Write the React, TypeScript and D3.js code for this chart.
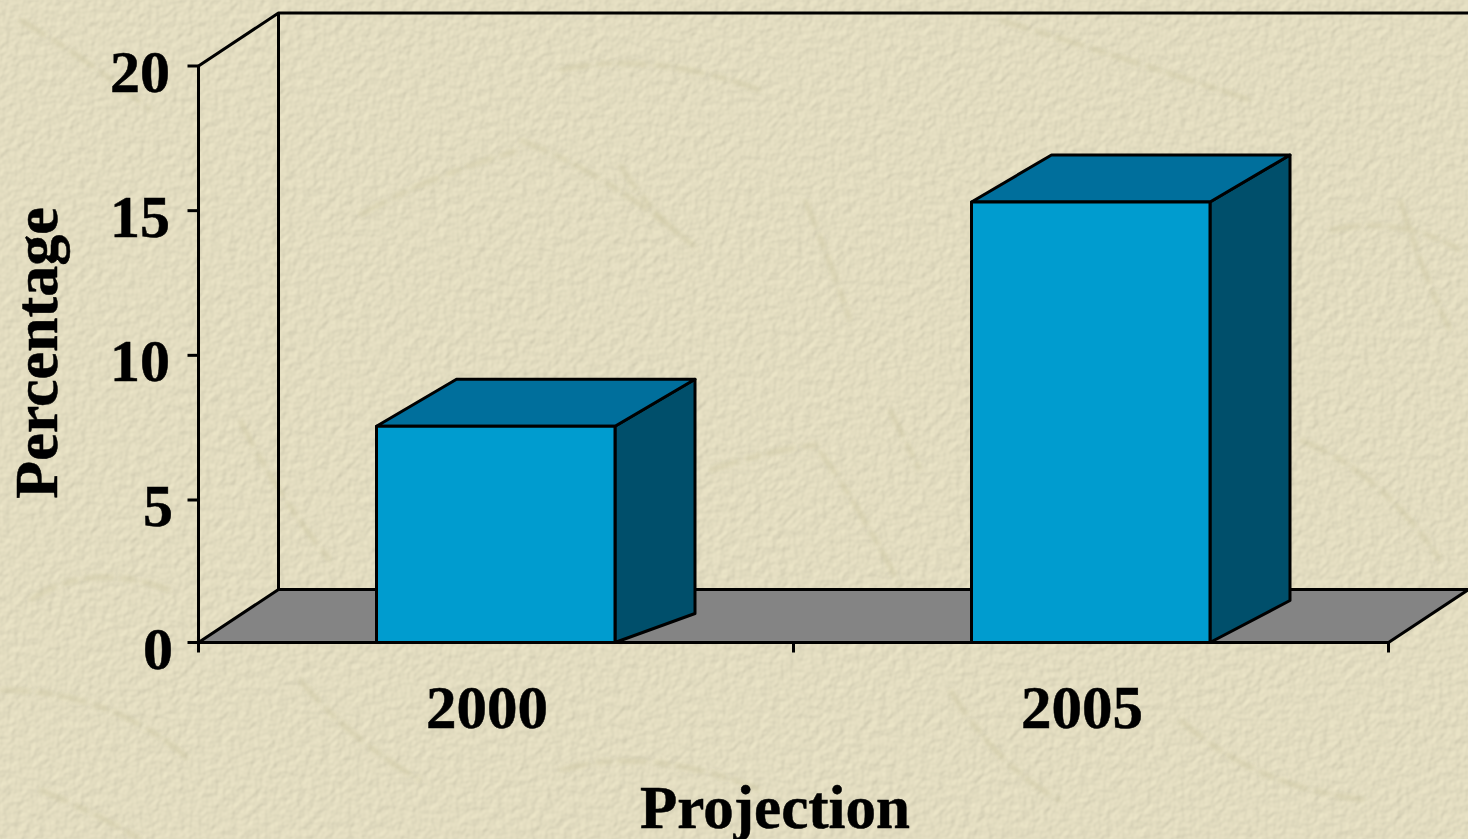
import React from "react";
import * as d3 from "d3";

const categories = ["2000", "2005"];
const values = [7.55, 15.3];
const sideDrops = [29, 42]; // how far the side face's lower edge rises
const yTicks = [0, 5, 10, 15, 20];
const xTitle = "Projection";
const yTitle = "Percentage";
const faint = "#cbc5a0";

const W = 1468, H = 839;
const left = 198.5, right = 1388.5, bottom = 642.5, top = 66;
const depthX = 80, depthY = 53, barDepthY = 47;

export default function App() {
  const y = d3.scaleLinear().domain([0, 5, 20]).range([bottom, 500, top]);
  const x = d3.scaleBand().domain(categories).range([left, right]).paddingInner(0.6).paddingOuter(0.3);
  const step = x.step();
  const poly = (pts: number[][]) => (d3.line()(pts as [number, number][]) as string) + "Z";
  const ink = { stroke: "#000", strokeWidth: 3, strokeLinejoin: "round" as const };
  const text = { fontFamily: "'Liberation Serif', serif", fontWeight: 700, fill: "#000", stroke: "#000", strokeWidth: 0.5 };
  const scratches = [
    "M360 215 Q430 175 520 150", "M520 140 Q600 170 680 235", "M620 165 Q650 215 700 250",
    "M805 200 Q830 260 850 320", "M710 470 Q770 450 815 445 Q850 490 900 585", "M890 410 Q905 440 920 470",
    "M1330 230 Q1400 215 1460 250", "M1400 200 Q1425 280 1450 330",
    "M20 20 Q90 60 150 110", "M30 600 Q90 560 170 590", "M0 690 Q110 690 190 760",
    "M560 770 Q650 745 760 790", "M1180 720 Q1260 790 1370 800", "M1000 20 Q1100 50 1250 100",
    "M300 680 Q350 740 420 780", "M40 790 Q90 810 140 839", "M560 70 Q650 50 760 90",
    "M1300 440 Q1380 470 1440 560", "M240 420 Q280 500 330 560", "M950 690 Q1000 770 1060 800",
  ];
  return (
    <svg width={W} height={H} viewBox={`0 0 ${W} ${H}`} style={{ position: "absolute", left: 0, top: 0 }}>
      <defs>
        <filter id="paper" x="0" y="0" width="100%" height="100%">
          <feTurbulence type="fractalNoise" baseFrequency="0.12" numOctaves={2} seed={7} result="n" />
          <feDiffuseLighting in="n" surfaceScale={0.8} diffuseConstant={1.1} lightingColor="#e5dfc2" result="l">
            <feDistantLight azimuth={225} elevation={62} />
          </feDiffuseLighting>
        </filter>
        <filter id="soft"><feGaussianBlur stdDeviation={2} /></filter>
      </defs>
      <rect width={W} height={H} fill="#e3ddbe" />
      <rect width={W} height={H} filter="url(#paper)" />
      <g fill="none" stroke={faint} strokeWidth={3.2} strokeDasharray="30 7 16 5" filter="url(#soft)" opacity={0.75}>
        {scratches.map((d) => <path key={d} d={d} />)}
      </g>

      {/* walls */}
      <path d={poly([[left, bottom], [left + depthX, bottom - depthY], [right + depthX, bottom - depthY], [right, bottom]])} fill="#848484" {...ink} />
      <path
        d={`M${left} ${bottom}V${top}L${left + depthX} ${top - depthY}H${W + 4}M${left + depthX} ${top - depthY}V${bottom - depthY}H${right + depthX}`}
        fill="none" {...ink}
      />

      {/* bars */}
      {categories.map((c, i) => {
        const x0 = (x(c) as number) - 0.5, x1 = x0 + x.bandwidth() + 0.5, yt = y(values[i]);
        return (
          <g key={c}>
            <path d={poly([[x1, yt], [x1 + depthX, yt - barDepthY], [x1 + depthX, bottom - sideDrops[i]], [x1, bottom]])} fill="#004f6b" {...ink} />
            <path d={poly([[x0, yt], [x0 + depthX, yt - barDepthY], [x1 + depthX, yt - barDepthY], [x1, yt]])} fill="#006f9c" {...ink} />
            <rect x={x0} y={yt} width={x1 - x0} height={bottom - yt} fill="#009ccf" {...ink} />
          </g>
        );
      })}

      {/* axes */}
      <line x1={left} x2={right} y1={bottom} y2={bottom} {...ink} />
      {yTicks.map((t) => (
        <g key={t}>
          <line x1={left - 11} x2={left} y1={y(t)} y2={y(t)} {...ink} />
          <text x={t < 10 ? 173 : 170} y={y(t) + 26} textAnchor="end" fontSize={60} {...text}>{t}</text>
        </g>
      ))}
      {d3.range(categories.length + 1).map((i) => (
        <line key={i} x1={left + i * step} x2={left + i * step} y1={bottom} y2={bottom + 10} {...ink} />
      ))}
      {categories.map((c) => (
        <text key={c} x={(x(c) as number) + x.bandwidth() / 2 - 9} y={727.5} textAnchor="middle" fontSize={61} {...text}>{c}</text>
      ))}
      <text x={775} y={828} textAnchor="middle" fontSize={61} {...text}>{xTitle}</text>
      <text transform="translate(57,353) rotate(-90)" textAnchor="middle" fontSize={62} {...text}>{yTitle}</text>
    </svg>
  );
}
